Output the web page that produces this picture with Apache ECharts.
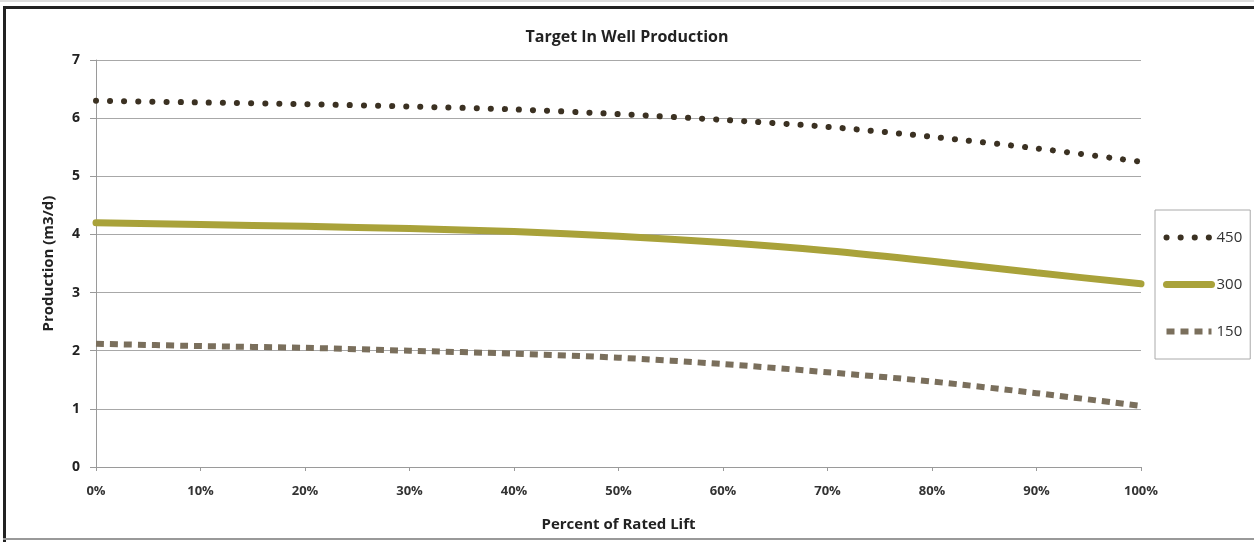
<!DOCTYPE html>
<html><head><meta charset="utf-8">
<script src="https://cdn.jsdelivr.net/npm/echarts@6/dist/echarts.min.js"></script>
<style>html,body{margin:0;padding:0;background:#fff}#c{width:1254px;height:542px}</style>
</head><body><div id="c"></div>
<script>
const categories = ['0%','10%','20%','30%','40%','50%','60%','70%','80%','90%','100%'];
const s450 = [6.30,6.27,6.24,6.20,6.15,6.07,5.97,5.85,5.68,5.48,5.25];
const s300 = [4.20,4.17,4.14,4.10,4.05,3.97,3.86,3.72,3.54,3.34,3.15];
const s150 = [2.12,2.08,2.05,2.00,1.95,1.88,1.77,1.63,1.47,1.27,1.05];
const seriesNames = ['450','300','150'];
const yTicks = {min:0, max:7, interval:1};

const font = '"Open Sans", "Liberation Sans", sans-serif';
const chart = echarts.init(document.getElementById('c'));
chart.setOption({
  backgroundColor:'#fff',
  animation:false,
  title:{text:'Target In Well Production', left:'center', top:24,
    textStyle:{fontFamily:font, fontSize:16, fontWeight:'bold', color:'#222'}},
  grid:{left:96, right:113, top:60, bottom:75},
  legend:{orient:'vertical', left:1155, top:210, padding:[20,8,20,8], itemGap:32,
    itemWidth:45, itemHeight:16, borderColor:'#aaa', borderWidth:1,
    textStyle:{fontFamily:font, fontSize:15, color:'#333'},
    itemStyle:{opacity:0},
    lineStyle:{width:'inherit', type:'inherit', cap:'inherit'},
    data:seriesNames},
  xAxis:{type:'category', data:categories, boundaryGap:false,
    name:'Percent of Rated Lift', nameLocation:'middle', nameGap:50,
    nameTextStyle:{fontFamily:font, fontSize:15, fontWeight:'bold', color:'#222'},
    axisLine:{lineStyle:{color:'#9a9a9a'}},
    axisTick:{show:true, alignWithLabel:true, length:4, lineStyle:{color:'#9a9a9a'}},
    axisLabel:{fontFamily:font, fontSize:13, fontWeight:'bold', color:'#333', margin:18},
    splitLine:{show:false}},
  yAxis:{type:'value', min:yTicks.min, max:yTicks.max, interval:yTicks.interval,
    name:'Production (m3/d)', nameLocation:'middle', nameGap:40, nameRotate:90,
    nameTextStyle:{fontFamily:font, fontSize:15, fontWeight:'bold', color:'#222'},
    axisLine:{show:true, lineStyle:{color:'#9a9a9a'}},
    axisTick:{show:true, length:6, lineStyle:{color:'#9a9a9a'}},
    axisLabel:{fontFamily:font, fontSize:14, fontWeight:'bold', color:'#222', margin:16},
    splitLine:{lineStyle:{color:'#a8a8a8', width:1.2}}},
  series:[
    {name:'450', type:'line', data:s450, smooth:0.3, showSymbol:false, symbol:'none',
      color:'#3b3122',
      lineStyle:{color:'#3b3122', width:6, type:[0.1,14], cap:'round'}},
    {name:'300', type:'line', data:s300, smooth:0.3, showSymbol:false, symbol:'none',
      color:'#a9a23a',
      lineStyle:{color:'#a9a23a', width:7, cap:'round'}},
    {name:'150', type:'line', data:s150, smooth:0.3, showSymbol:false, symbol:'none',
      color:'#7a6f5c',
      lineStyle:{color:'#7a6f5c', width:6, type:[8,6], cap:'butt'}}
  ],
  graphic:[
    {type:'line', shape:{x1:0,y1:1,x2:1254,y2:1}, style:{stroke:'#bbb', lineWidth:1}},
    {type:'line', shape:{x1:3,y1:7.5,x2:1254,y2:7.5}, style:{stroke:'#222', lineWidth:3}},
    {type:'line', shape:{x1:4.5,y1:6,x2:4.5,y2:542}, style:{stroke:'#222', lineWidth:3}},
    {type:'line', shape:{x1:3,y1:539,x2:1254,y2:539}, style:{stroke:'#999', lineWidth:2}}
  ]
});
</script></body></html>
